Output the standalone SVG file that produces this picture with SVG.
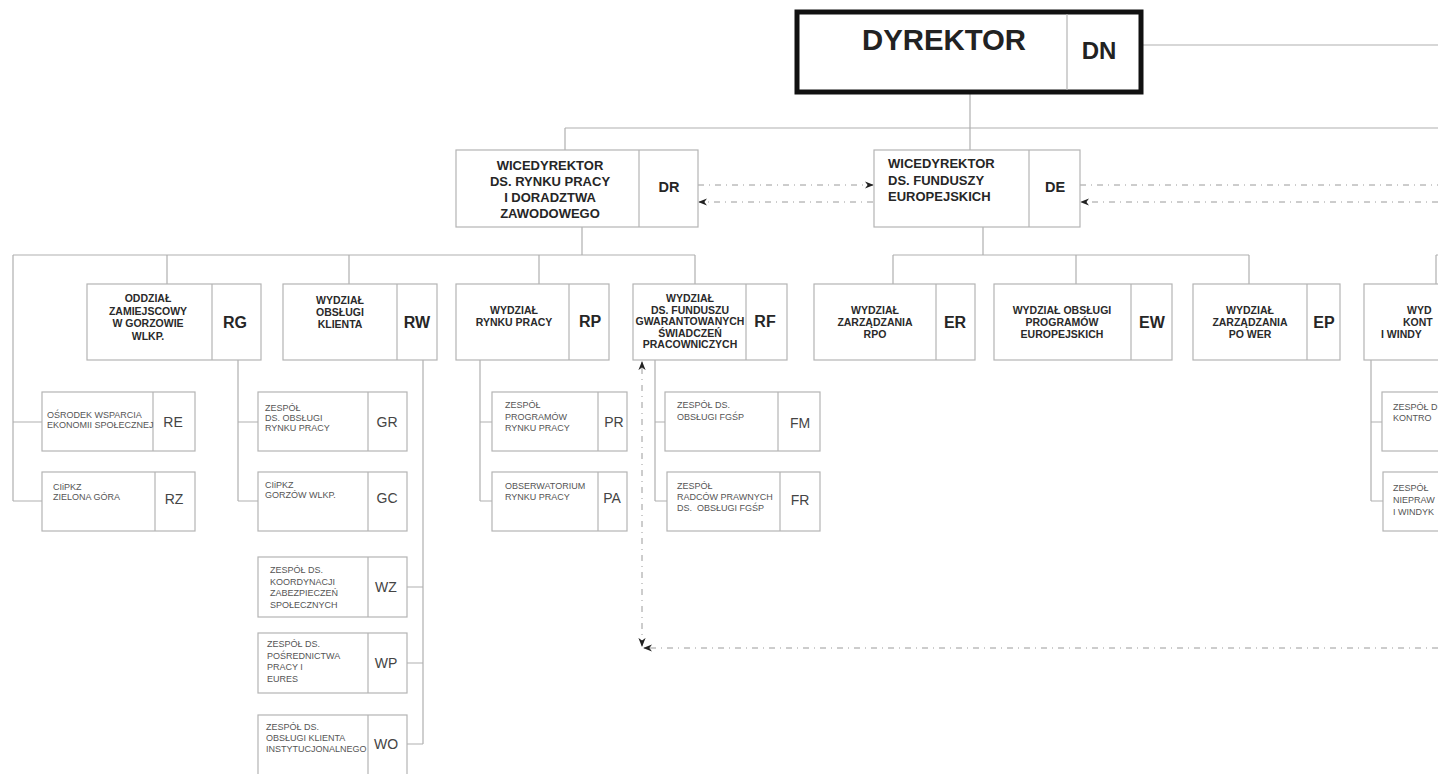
<svg xmlns="http://www.w3.org/2000/svg" width="1438" height="774" viewBox="0 0 1438 774">
<style>
.bx{fill:#fff;stroke:#b4b4b4;stroke-width:1.2}
.dv{stroke:#b4b4b4;stroke-width:1.2}
.cn{fill:none;stroke:#b0b0b0;stroke-width:1.2}
.dt{fill:none;stroke:#9a9a9a;stroke-width:1;stroke-dasharray:6 5 1 5}
.t1{font-family:"Liberation Sans",Arial,sans-serif;font-weight:bold;font-size:13px;fill:#262626}
.t2{font-family:"Liberation Sans",Arial,sans-serif;font-weight:bold;font-size:10.5px;fill:#2a2a2a}
.t3{font-family:"Liberation Sans",Arial,sans-serif;font-size:9px;fill:#555}
.c1{font-family:"Liberation Sans",Arial,sans-serif;font-weight:bold;font-size:14.5px;fill:#262626}
.c2{font-family:"Liberation Sans",Arial,sans-serif;font-weight:bold;font-size:16px;fill:#262626}
.c3{font-family:"Liberation Sans",Arial,sans-serif;font-size:14px;fill:#444}
.m{text-anchor:middle}
</style>
<defs>
<marker id="ah" viewBox="0 0 10 10" refX="9" refY="5" markerWidth="9" markerHeight="9" orient="auto-start-reverse" markerUnits="userSpaceOnUse">
<path d="M0,1 L10,5 L0,9 L3,5 z" fill="#222"/>
</marker>
</defs>
<rect width="1438" height="774" fill="#fff"/>

<g id="connectors">
<path class="cn" d="M1143,45 H1438 M970,94 V128 M565,128 H1438 M565,128 V150 M970,128 V150"/>
<path class="cn" d="M582,227 V255 M13,255 H695 M13,255 V501 M167,255 V284 M349,255 V284 M539,255 V284 M695,255 V284"/>
<path class="cn" d="M983,227 V255 M893,255 H1249 M893,255 V284 M1076,255 V284 M1249,255 V284 M1436,255 V284 M1436,255 H1438"/>
<path class="cn" d="M13,422 H42 M13,501 H42"/>
<path class="cn" d="M238,360 V501 M238,422 H258 M238,501 H258"/>
<path class="cn" d="M423,360 V744 M407,587 H423 M407,663 H423 M407,744 H423"/>
<path class="cn" d="M480,360 V501 M480,422 H492 M480,501 H492"/>
<path class="cn" d="M655,360 V501 M655,422 H665 M655,501 H667"/>
<path class="cn" d="M1371,360 V501 M1371,422 H1382 M1371,501 H1383"/>
<path class="dt" d="M698,185 H873" marker-end="url(#ah)"/>
<path class="dt" d="M873,202 H699" marker-end="url(#ah)"/>
<path class="dt" d="M1080,185 H1438"/>
<path class="dt" d="M1438,202 H1081" marker-end="url(#ah)"/>
<path class="dt" d="M642,646 V362" marker-start="url(#ah)" marker-end="url(#ah)"/>
<path class="dt" d="M1438,648 H644" marker-end="url(#ah)"/>
</g>

<g id="DN">
<rect x="797" y="12" width="344" height="80" fill="#fff" stroke="#111" stroke-width="5"/>
<line x1="1067" y1="14" x2="1067" y2="90" class="dv"/>
<text x="944" y="50" class="m" font-family="Liberation Sans,Arial,sans-serif" font-weight="bold" font-size="30" fill="#222" textLength="164" lengthAdjust="spacingAndGlyphs">DYREKTOR</text>
<text x="1099" y="59" class="m" font-family="Liberation Sans,Arial,sans-serif" font-weight="bold" font-size="24" fill="#222">DN</text>
</g>

<g id="DR">
<rect class="bx" x="456" y="150" width="242" height="77"/>
<line class="dv" x1="639" y1="150" x2="639" y2="227"/>
<text class="t1 m" x="550" y="170">WICEDYREKTOR</text>
<text class="t1 m" x="550" y="186">DS. RYNKU PRACY</text>
<text class="t1 m" x="550" y="202">I DORADZTWA</text>
<text class="t1 m" x="550" y="218">ZAWODOWEGO</text>
<text class="c1 m" x="669" y="192">DR</text>
</g>

<g id="DE">
<rect class="bx" x="874" y="150" width="206" height="77"/>
<line class="dv" x1="1029" y1="150" x2="1029" y2="227"/>
<text class="t1" x="888" y="168">WICEDYREKTOR</text>
<text class="t1" x="888" y="185">DS. FUNDUSZY</text>
<text class="t1" x="888" y="201">EUROPEJSKICH</text>
<text class="c1 m" x="1055" y="192">DE</text>
</g>

<g id="RG">
<rect class="bx" x="87" y="284" width="174" height="76"/>
<line class="dv" x1="212" y1="284" x2="212" y2="360"/>
<text class="t2 m" x="148" y="302">ODDZIAŁ</text>
<text class="t2 m" x="148" y="314.5">ZAMIEJSCOWY</text>
<text class="t2 m" x="148" y="327">W GORZOWIE</text>
<text class="t2 m" x="148" y="339.5">WLKP.</text>
<text class="c2 m" x="235" y="328">RG</text>
</g>

<g id="RW">
<rect class="bx" x="283" y="284" width="154" height="76"/>
<line class="dv" x1="397" y1="284" x2="397" y2="360"/>
<text class="t2 m" x="340" y="304">WYDZIAŁ</text>
<text class="t2 m" x="340" y="316">OBSŁUGI</text>
<text class="t2 m" x="340" y="328">KLIENTA</text>
<text class="c2 m" x="417" y="328">RW</text>
</g>

<g id="RP">
<rect class="bx" x="456" y="284" width="153" height="76"/>
<line class="dv" x1="569" y1="284" x2="569" y2="360"/>
<text class="t2 m" x="514" y="314">WYDZIAŁ</text>
<text class="t2 m" x="514" y="326">RYNKU PRACY</text>
<text class="c2 m" x="590" y="327">RP</text>
</g>

<g id="RF">
<rect class="bx" x="633" y="284" width="154" height="76"/>
<line class="dv" x1="746" y1="284" x2="746" y2="360"/>
<text class="t2 m" x="690" y="302">WYDZIAŁ</text>
<text class="t2 m" x="690" y="313.5">DS. FUNDUSZU</text>
<text class="t2 m" x="690" y="325">GWARANTOWANYCH</text>
<text class="t2 m" x="690" y="336.5">ŚWIADCZEŃ</text>
<text class="t2 m" x="690" y="348">PRACOWNICZYCH</text>
<text class="c2 m" x="765" y="327">RF</text>
</g>

<g id="ER">
<rect class="bx" x="814" y="284" width="161" height="76"/>
<line class="dv" x1="936" y1="284" x2="936" y2="360"/>
<text class="t2 m" x="875" y="314">WYDZIAŁ</text>
<text class="t2 m" x="875" y="326">ZARZĄDZANIA</text>
<text class="t2 m" x="875" y="338">RPO</text>
<text class="c2 m" x="955" y="328">ER</text>
</g>

<g id="EW">
<rect class="bx" x="994" y="284" width="178" height="76"/>
<line class="dv" x1="1131" y1="284" x2="1131" y2="360"/>
<text class="t2 m" x="1062" y="314">WYDZIAŁ OBSŁUGI</text>
<text class="t2 m" x="1062" y="326">PROGRAMÓW</text>
<text class="t2 m" x="1062" y="338">EUROPEJSKICH</text>
<text class="c2 m" x="1152" y="328">EW</text>
</g>

<g id="EP">
<rect class="bx" x="1193" y="284" width="147" height="76"/>
<line class="dv" x1="1307" y1="284" x2="1307" y2="360"/>
<text class="t2 m" x="1250" y="314">WYDZIAŁ</text>
<text class="t2 m" x="1250" y="326">ZARZĄDZANIA</text>
<text class="t2 m" x="1250" y="338">PO WER</text>
<text class="c2 m" x="1324" y="328">EP</text>
</g>

<g id="WK">
<rect class="bx" x="1364" y="284" width="90" height="76"/>
<text class="t2" x="1407" y="314">WYD</text>
<text class="t2" x="1403" y="326">KONT</text>
<text class="t2" x="1381" y="338">I WINDY</text>
</g>

<g id="RE">
<rect class="bx" x="42" y="392" width="153" height="59"/>
<line class="dv" x1="153" y1="392" x2="153" y2="451"/>
<text class="t3" x="47" y="418">OŚRODEK WSPARCIA</text>
<text class="t3" x="47" y="428">EKONOMII SPOŁECZNEJ</text>
<text class="c3 m" x="173" y="427">RE</text>
</g>

<g id="RZ">
<rect class="bx" x="42" y="472" width="153" height="59"/>
<line class="dv" x1="155" y1="472" x2="155" y2="531"/>
<text class="t3" x="53" y="490">CIiPKZ</text>
<text class="t3" x="53" y="500">ZIELONA GÓRA</text>
<text class="c3 m" x="174" y="504">RZ</text>
</g>

<g id="GR">
<rect class="bx" x="258" y="392" width="149" height="59"/>
<line class="dv" x1="368" y1="392" x2="368" y2="451"/>
<text class="t3" x="265" y="411">ZESPÓŁ</text>
<text class="t3" x="265" y="421">DS. OBSŁUGI</text>
<text class="t3" x="265" y="431">RYNKU PRACY</text>
<text class="c3 m" x="387" y="427">GR</text>
</g>

<g id="GC">
<rect class="bx" x="258" y="472" width="149" height="59"/>
<line class="dv" x1="368" y1="472" x2="368" y2="531"/>
<text class="t3" x="265" y="488">CIiPKZ</text>
<text class="t3" x="265" y="498">GORZÓW WLKP.</text>
<text class="c3 m" x="387" y="503">GC</text>
</g>

<g id="WZ">
<rect class="bx" x="258" y="557" width="149" height="60"/>
<line class="dv" x1="368" y1="557" x2="368" y2="617"/>
<text class="t3" x="270" y="573">ZESPÓŁ DS.</text>
<text class="t3" x="270" y="584.5">KOORDYNACJI</text>
<text class="t3" x="270" y="596">ZABEZPIECZEŃ</text>
<text class="t3" x="270" y="607.5">SPOŁECZNYCH</text>
<text class="c3 m" x="386" y="592">WZ</text>
</g>

<g id="WP">
<rect class="bx" x="258" y="633" width="149" height="60"/>
<line class="dv" x1="368" y1="633" x2="368" y2="693"/>
<text class="t3" x="267" y="647">ZESPÓŁ DS.</text>
<text class="t3" x="267" y="658.5">POŚREDNICTWA</text>
<text class="t3" x="267" y="670">PRACY I</text>
<text class="t3" x="267" y="681.5">EURES</text>
<text class="c3 m" x="386" y="668">WP</text>
</g>

<g id="WO">
<rect class="bx" x="258" y="715" width="149" height="70"/>
<line class="dv" x1="368" y1="715" x2="368" y2="785"/>
<text class="t3" x="266" y="730">ZESPÓŁ DS.</text>
<text class="t3" x="266" y="741">OBSŁUGI KLIENTA</text>
<text class="t3" x="266" y="752">INSTYTUCJONALNEGO</text>
<text class="c3 m" x="386" y="749">WO</text>
</g>

<g id="PR">
<rect class="bx" x="492" y="392" width="135" height="59"/>
<line class="dv" x1="598" y1="392" x2="598" y2="451"/>
<text class="t3" x="505" y="408">ZESPÓŁ</text>
<text class="t3" x="505" y="419.5">PROGRAMÓW</text>
<text class="t3" x="505" y="431">RYNKU PRACY</text>
<text class="c3 m" x="614" y="427">PR</text>
</g>

<g id="PA">
<rect class="bx" x="492" y="472" width="135" height="59"/>
<line class="dv" x1="598" y1="472" x2="598" y2="531"/>
<text class="t3" x="505" y="489">OBSERWATORIUM</text>
<text class="t3" x="505" y="500">RYNKU PRACY</text>
<text class="c3 m" x="612" y="503">PA</text>
</g>

<g id="FM">
<rect class="bx" x="665" y="392" width="155" height="59"/>
<line class="dv" x1="778" y1="392" x2="778" y2="451"/>
<text class="t3" x="677" y="408">ZESPÓŁ DS.</text>
<text class="t3" x="677" y="419.5">OBSŁUGI FGŚP</text>
<text class="c3 m" x="800" y="428">FM</text>
</g>

<g id="FR">
<rect class="bx" x="667" y="472" width="153" height="59"/>
<line class="dv" x1="780" y1="472" x2="780" y2="531"/>
<text class="t3" x="677" y="489">ZESPÓŁ</text>
<text class="t3" x="677" y="500">RADCÓW PRAWNYCH</text>
<text class="t3" x="677" y="511" xml:space="preserve">DS.  OBSŁUGI FGŚP</text>
<text class="c3 m" x="800" y="505">FR</text>
</g>

<g id="WK1">
<rect class="bx" x="1382" y="392" width="70" height="59"/>
<text class="t3" x="1393" y="410">ZESPÓŁ D</text>
<text class="t3" x="1393" y="420.5">KONTRO</text>
</g>

<g id="WK2">
<rect class="bx" x="1383" y="472" width="70" height="59"/>
<text class="t3" x="1393" y="491">ZESPÓŁ</text>
<text class="t3" x="1393" y="503">NIEPRAW</text>
<text class="t3" x="1393" y="515">I WINDYK</text>
</g>
</svg>
